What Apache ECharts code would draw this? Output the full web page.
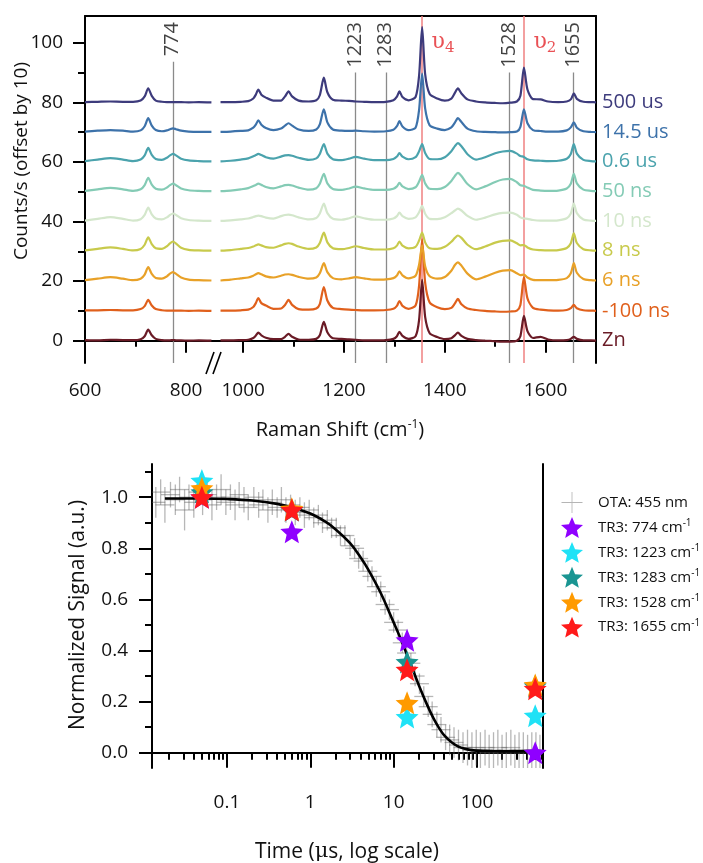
<!DOCTYPE html>
<html><head><meta charset="utf-8">
<script src="https://cdn.jsdelivr.net/npm/echarts@6/dist/echarts.min.js"></script>
<style>html,body{margin:0;padding:0;background:#fff}#c{width:703px;height:863px}</style>
</head><body><div id="c"></div>
<script>
// ---------- top panel data (Raman shift, cm-1) ----------
const shiftLeft = [600,625,650,675,695,710,718,725,732,740,752,762,768,774,780,790,805,825,850];
const shiftRight = [955,975,995,1010,1020,1025,1030,1036,1045,1060,1075,1083,1090,1097,1110,1130,1145,1152,1160,1167,
  1178,1195,1210,1223,1240,1260,1283,1298,1305,1310,1316,1328,1342,1349,1355,1361,1370,1385,1400,1413,
  1420,1426,1433,1445,1462,1480,1500,1515,1530,1543,1550,1557,1564,1575,1590,1605,1625,1642,1650,1656,
  1662,1675,1690,1700];
const spectraNames = ['Zn','-100 ns','6 ns','8 ns','10 ns','50 ns','0.6 us','14.5 us','500 us'];
const spectraOffsets = [0,10,20,30,40,50,60,70,80];

const znLeft = [0.2,0.1,0.3,0.2,0.2,0.5,1.5,3.7,1.8,0.6,0.2,0.1,0.1,0.2,0.1,0.1,0.0,0.1,0.0];
const znRight = [0.1,0.1,0.2,0.3,0.9, 1.7,2.7,1.8,1.0,0.5, 0.5,1.3,2.3,1.3,0.4, 0.3,0.6,1.8,6.3,2.8,
  0.8,0.6,0.4,0.3,0.1, 0.1,0.2,0.6,1.5,3.0, 1.6,0.6,1.5,7.0,20.4, 8.0,2.5,1.2,0.5,0.8,
  1.8,2.7,1.6,0.6,0.2, 0.0,-0.2,-0.3,-0.3,0.0, 1.5,8.3,3.2,0.9,1.3, 0.4,0.1,0.2,0.6,1.3, 0.6,0.1,0.1,0.0];
const m100nsLeft = [0.2,0.2,0.3,0.2,0.2,0.6,1.6,3.7,1.8,0.6,0.2,0.1,0.1,0.1,0.1,0.1,0.0,0.1,0.0];
const m100nsRight = [0.1,0.1,0.2,0.4,1.3, 2.6,4.3,2.6,1.8,0.7, 0.8,2.0,3.7,2.0,0.6, 0.4,0.8,2.3,8.0,3.5,
  1.0,0.6,0.4,0.3,0.2, 0.2,0.3,0.7,1.7,3.3, 1.7,0.7,1.8,8.5,24.0, 9.5,2.8,1.2,0.6,1.0,
  2.5,4.0,2.2,0.8,0.3, 0.0,-0.2,-0.3,-0.2,0.1, 2.0,11.3,4.2,1.0,0.4, 0.2,0.1,0.3,0.9,2.0, 0.9,0.2,0.1,0.0];
const ns6Left = [0.3,0.8,1.3,0.8,0.3,0.8,2.2,4.7,2.4,1.0,0.8,1.6,2.5,3.0,2.4,1.2,0.5,0.3,0.2];
const ns6Right = [0.2,0.5,0.9,1.2,1.8, 2.3,2.7,2.3,1.6,1.2, 1.8,2.2,2.3,2.1,1.4, 0.8,1.2,2.6,6.0,3.0,
  1.0,0.6,0.9,1.3,0.9, 0.5,0.6,1.0,1.9,3.3, 1.9,0.9,1.8,5.5,12.0, 5.0,1.6,0.8,1.4,3.5,
  5.4,6.3,5.2,2.5,0.6, 1.5,2.8,3.5,3.7,2.6, 2.0,2.2,1.2,0.4,0.3, 0.3,0.4,1.0,2.6,6.0, 2.8,0.7,0.3,0.2];
const ns8Left = [0.3,0.8,1.3,0.8,0.3,0.8,2.2,4.7,2.4,1.0,0.8,1.7,2.7,3.3,2.6,1.2,0.5,0.3,0.2];
const ns8Right = [0.2,0.4,0.8,1.1,1.6, 2.0,2.3,2.0,1.4,1.2, 2.0,2.5,2.7,2.5,1.6, 0.8,1.3,2.8,6.3,3.0,
  1.0,0.7,1.1,1.7,1.1, 0.6,0.6,1.0,1.9,3.3, 1.9,1.0,1.5,3.6,6.3, 3.0,1.0,0.8,1.5,3.2,
  4.5,5.3,4.5,2.2,0.7, 1.6,2.9,3.5,3.7,2.7, 2.0,2.1,1.3,0.6,0.4, 0.3,0.4,1.1,2.7,6.0, 2.8,0.7,0.3,0.2];
const ns10Left = [0.3,0.9,1.5,0.9,0.3,0.8,2.2,4.7,2.4,1.0,0.7,1.4,2.2,2.7,2.2,1.1,0.5,0.3,0.2];
const ns10Right = [0.2,0.4,0.7,1.0,1.5, 1.8,2.0,1.8,1.3,1.0, 1.8,2.2,2.3,2.1,1.4, 0.7,1.2,2.7,6.0,2.8,
  0.9,0.6,1.1,1.7,1.1, 0.6,0.6,1.0,1.8,3.0, 1.8,0.9,1.4,3.1,5.3, 2.6,0.9,0.8,1.4,2.8,
  3.7,4.3,3.7,1.9,0.6, 1.3,2.4,2.9,3.0,2.3, 1.4,1.0,0.9,0.5,0.3, 0.3,0.4,1.1,2.7,6.0, 2.8,0.7,0.3,0.2];
const ns50Left = [0.3,0.8,1.3,0.8,0.3,0.8,2.2,4.7,2.4,1.0,0.7,1.4,2.2,2.7,2.2,1.1,0.5,0.3,0.2];
const ns50Right = [0.2,0.4,0.8,1.2,1.9, 2.3,2.7,2.3,1.6,1.1, 1.8,2.2,2.3,2.1,1.4, 0.7,1.2,2.7,6.0,2.8,
  0.9,0.6,1.1,1.7,1.1, 0.6,0.6,1.0,1.8,3.0, 1.8,0.9,1.5,3.4,5.7, 2.8,1.0,0.9,1.6,3.6,
  5.3,6.3,5.3,2.6,0.8, 1.8,3.3,4.1,4.3,3.2, 2.2,2.0,1.4,0.6,0.4, 0.3,0.4,1.1,2.7,6.0, 2.8,0.7,0.3,0.2];
const us06Left = [0.3,0.8,1.3,0.8,0.3,0.8,2.2,4.7,2.4,1.0,0.7,1.4,2.2,2.7,2.2,1.1,0.5,0.3,0.2];
const us06Right = [0.2,0.4,0.8,1.2,1.9, 2.3,2.7,2.3,1.6,1.1, 1.8,2.2,2.3,2.1,1.4, 0.7,1.2,2.7,6.0,2.8,
  0.9,0.6,1.1,1.7,1.1, 0.6,0.6,1.0,1.8,3.0, 1.8,0.9,1.6,3.6,6.0, 3.0,1.0,0.9,1.6,3.6,
  5.3,6.3,5.3,2.6,0.8, 1.6,2.9,3.5,3.7,2.8, 2.0,1.7,0.9,0.5,0.4, 0.3,0.4,1.1,2.7,6.0, 2.8,0.7,0.3,0.2];
const us145Left = [0.2,0.5,0.7,0.5,0.2,0.6,2.0,4.7,2.2,0.7,0.3,0.6,1.0,1.3,1.0,0.5,0.2,0.1,0.1];
const us145Right = [0.1,0.2,0.4,0.6,1.5, 2.5,4.0,2.5,1.4,0.7, 1.2,2.2,3.0,2.2,0.9, 0.4,0.9,2.6,7.7,3.3,
  0.9,0.5,0.4,0.5,0.3, 0.2,0.3,0.8,2.0,3.7, 1.9,0.7,1.5,7.5,19.7, 8.0,2.3,1.2,0.7,1.6,
  3.2,4.7,3.4,1.2,0.3, 0.1,0.0,-0.1,0.0,0.2, 1.8,7.7,3.0,0.7,0.4, 0.2,0.2,0.6,1.6,3.3, 1.5,0.3,0.1,0.0];
const us500Left = [0.1,0.2,0.3,0.2,0.2,0.6,2.0,4.7,2.2,0.6,0.2,0.1,0.1,0.1,0.1,0.1,0.0,0.1,0.0];
const us500Right = [0.1,0.1,0.2,0.4,1.3, 2.6,4.3,2.6,1.6,0.6, 0.6,2.0,3.7,2.0,0.6, 0.3,0.7,2.4,8.3,3.4,
  0.9,0.6,0.5,0.3,0.2, 0.1,0.2,0.7,1.9,3.7, 1.8,0.7,1.8,9.0,25.3, 9.5,2.8,1.3,0.6,1.3,
  3.2,4.7,3.0,1.0,0.3, 0.0,-0.2,-0.3,-0.1,0.3, 2.2,11.7,4.3,1.1,1.0, 0.3,0.1,0.3,1.0,3.0, 1.2,0.2,0.1,0.0];

const spectraLeft = [znLeft,m100nsLeft,ns6Left,ns8Left,ns10Left,ns50Left,us06Left,us145Left,us500Left];
const spectraRight = [znRight,m100nsRight,ns6Right,ns8Right,ns10Right,ns50Right,us06Right,us145Right,us500Right];

const markerLines = [774,1223,1283,1528,1655];
const markerLineTops = [93.6,90,90,90,90];
const nuLines = [1355,1557];
const nuSubscripts = ['4','2'];

// ---------- bottom panel data ----------
const otaTime = [0.014,0.016,0.018,0.021,0.024,0.027,0.031,0.035,0.04,0.045,
  0.051,0.058,0.066,0.075,0.085,0.097,0.11,0.125,0.14,0.16,
  0.18,0.21,0.24,0.27,0.31,0.35,0.4,0.45,0.51,0.58,
  0.66,0.75,0.85,0.97,1.1,1.25,1.4,1.6,1.8,2.05,
  2.3,2.6,3.0,3.4,3.8,4.3,4.9,5.5,6.2,7.0,
  7.9,8.9,10,11.3,12.7,14.3,16.1,18.1,20.4,23,
  26,29,33,37,42,47,53,60,68,77,
  87,98,110,125,140,158,178,200,225,255,
  285,320,360,405,455,510,570];
const otaSignal = [0.98,1.02,0.97,1.01,0.99,1.03,0.95,1.00,0.98,1.02,
  0.99,1.01,0.97,1.00,1.03,0.98,1.00,0.97,1.01,0.99,
  0.96,1.00,0.97,0.99,0.95,0.98,0.96,0.99,0.95,0.97,
  0.94,0.96,0.93,0.95,0.92,0.93,0.90,0.91,0.88,0.88,
  0.85,0.85,0.81,0.80,0.76,0.75,0.71,0.69,0.65,0.63,
  0.58,0.56,0.51,0.48,0.43,0.39,0.35,0.30,0.27,0.22,
  0.18,0.15,0.11,0.09,0.06,0.05,0.04,0.03,0.02,0.02,
  0.01,0.02,0.01,0.02,0.00,0.01,0.02,0.00,0.01,0.02,
  0.00,0.01,0.01,0.00,0.01,0.01,0.00];
const otaError = [0.06,0.05,0.07,0.05,0.06,0.05,0.08,0.05,0.06,0.05,
  0.06,0.05,0.06,0.05,0.06,0.05,0.05,0.06,0.05,0.05,
  0.05,0.04,0.05,0.04,0.05,0.05,0.04,0.05,0.05,0.04,
  0.05,0.04,0.05,0.04,0.04,0.04,0.04,0.04,0.04,0.04,
  0.04,0.04,0.04,0.04,0.04,0.04,0.04,0.04,0.04,0.04,
  0.04,0.04,0.04,0.04,0.04,0.04,0.04,0.04,0.04,0.04,
  0.04,0.05,0.05,0.05,0.05,0.06,0.06,0.06,0.06,0.07,
  0.07,0.07,0.07,0.07,0.07,0.07,0.07,0.07,0.07,0.07,
  0.07,0.07,0.07,0.07,0.07,0.07,0.07];
const otaTimeErrorFactor = 1.3;

const fitTime = [0.018,0.05,0.1,0.2,0.4,0.6,1,1.5,2,3,4,5,7,10,12,14,17,20,25,30,35,40,50,60,70,85,100,150,200,300,500];
const fitSignal = [0.995,0.995,0.993,0.987,0.974,0.96,0.936,0.905,0.875,0.82,0.765,0.715,0.625,0.51,0.45,0.395,0.325,0.265,0.19,0.135,0.097,0.07,0.04,0.024,0.016,0.01,0.008,0.006,0.005,0.005,0.005];

const tr3Times = [0.05,0.6,14.5,500];
const tr3Names = ['TR3: 774 cm-1','TR3: 1223 cm-1','TR3: 1283 cm-1','TR3: 1528 cm-1','TR3: 1655 cm-1'];
const tr3_774 = [1.0,0.865,0.44,0.0];
const tr3_1223 = [1.065,0.95,0.14,0.145];
const tr3_1283 = [1.02,0.95,0.355,0.26];
const tr3_1528 = [1.035,0.955,0.195,0.265];
const tr3_1655 = [1.0,0.95,0.325,0.25];
const tr3Values = [tr3_774,tr3_1223,tr3_1283,tr3_1528,tr3_1655];

const xTicksLog = [0.1,1,10,100];
const xMinorLog = [0.02,0.03,0.04,0.05,0.06,0.07,0.08,0.09,0.2,0.3,0.4,0.5,0.6,0.7,0.8,0.9,
  2,3,4,5,6,7,8,9,20,30,40,50,60,70,80,90,200,300,400,500,600];

// ---------- styles ----------
const FONT = "'Open Sans', sans-serif";
const spectraColors = ['#6a1b26','#e0601c','#e8a128','#c8ca4c','#d4e7cc','#84cbb5','#4ba3ad','#3d72aa','#3d3b7c'];
const tr3Colors = ['#8f00ff','#1fe2f6','#1a9592','#ff9a00','#ff1a1a'];
const STAR = 'path://M50,0 L63.2,31.8 L97.55,34.55 L71.4,56.95 L79.4,90.45 L50,72.5 L20.6,90.45 L28.6,56.95 L2.45,34.55 L36.8,31.8 Z';
const CROSS = 'path://M0,9.6 H20 V10.4 H0 Z M9.6,0 H10.4 V20 H9.6 Z';
const topYMin = -7.5, topYMax = 109;
const botYMin = -0.06, botYMax = 1.13;
const logMin = 0.0126, logMax = 620;
const line = {show:true, lineStyle:{color:'#000', width:2}};
const noLine = {show:false};
const labelStyle = {fontFamily:FONT, fontSize:19, color:'#111'};
const plain = v => String(+(+v).toPrecision(4));

const grids = [
  {left:85, top:16, width:133, height:347},
  {left:218, top:16, width:378, height:347},
  {left:152, top:464, width:391, height:304},
  {left:85, top:16, width:133, height:347},
  {left:218, top:16, width:378, height:347},
  {left:152, top:464, width:391, height:304}
];

const xAxes = [
  {gridIndex:0, type:'value', position:'bottom', min:600, max:863, axisLine:line, splitLine:noLine,
    axisTick:{customValues:[600,800], length:12, lineStyle:{color:'#000', width:2}},
    axisLabel:Object.assign({customValues:[600,800], margin:18, formatter:plain}, labelStyle)},
  {gridIndex:0, type:'value', position:'top', min:600, max:863, axisLine:line, splitLine:noLine, axisTick:noLine, axisLabel:noLine},
  {gridIndex:1, type:'value', position:'bottom', min:950, max:1700, axisLine:line, splitLine:noLine,
    axisTick:{customValues:[1000,1200,1400,1600], length:12, lineStyle:{color:'#000', width:2}},
    axisLabel:Object.assign({customValues:[1000,1200,1400,1600], margin:18, formatter:plain}, labelStyle)},
  {gridIndex:1, type:'value', position:'top', min:950, max:1700, axisLine:line, splitLine:noLine, axisTick:noLine, axisLabel:noLine},
  {gridIndex:2, type:'log', logBase:10, position:'bottom', min:logMin, max:logMax, axisLine:line, splitLine:noLine, minorTick:noLine,
    axisTick:{customValues:xTicksLog, length:15, lineStyle:{color:'#000', width:2}},
    axisLabel:Object.assign({customValues:xTicksLog, margin:25, formatter:plain}, labelStyle)},
  {gridIndex:2, type:'log', logBase:10, position:'top', min:logMin, max:logMax, axisLine:line, splitLine:noLine, axisTick:noLine, axisLabel:noLine},
  {gridIndex:3, type:'value', position:'bottom', min:600, max:863, axisLine:noLine, splitLine:noLine,
    axisTick:{customValues:[700], length:6, lineStyle:{color:'#000', width:2}}, axisLabel:noLine},
  {gridIndex:4, type:'value', position:'bottom', min:950, max:1700, axisLine:noLine, splitLine:noLine,
    axisTick:{customValues:[1100,1300,1500,1700], length:6, lineStyle:{color:'#000', width:2}}, axisLabel:noLine},
  {gridIndex:5, type:'log', logBase:10, position:'bottom', min:logMin, max:logMax, axisLine:noLine, splitLine:noLine,
    axisTick:{customValues:xMinorLog, length:7, lineStyle:{color:'#000', width:2}}, axisLabel:noLine}
];

const yAxes = [
  {gridIndex:0, type:'value', position:'left', min:topYMin, max:topYMax, axisLine:line, splitLine:noLine,
    axisTick:{customValues:[0,20,40,60,80,100], length:12, lineStyle:{color:'#000', width:2}},
    axisLabel:Object.assign({customValues:[0,20,40,60,80,100], margin:22, formatter:plain}, labelStyle)},
  {gridIndex:1, type:'value', position:'right', min:topYMin, max:topYMax, axisLine:line, splitLine:noLine, axisTick:noLine, axisLabel:noLine},
  {gridIndex:2, type:'value', position:'left', min:botYMin, max:botYMax, axisLine:line, splitLine:noLine,
    axisTick:{customValues:[0,0.2,0.4,0.6,0.8,1.0], length:13, lineStyle:{color:'#000', width:2}},
    axisLabel:Object.assign({customValues:[0,0.2,0.4,0.6,0.8,1.0], margin:24, formatter:v=>(+v).toFixed(1)}, labelStyle)},
  {gridIndex:2, type:'value', position:'right', min:botYMin, max:botYMax, axisLine:line, splitLine:noLine, axisTick:noLine, axisLabel:noLine},
  {gridIndex:3, type:'value', position:'left', min:topYMin, max:topYMax, axisLine:noLine, splitLine:noLine,
    axisTick:{customValues:[10,30,50,70,90], length:7, lineStyle:{color:'#000', width:2}}, axisLabel:noLine},
  {gridIndex:4, type:'value', position:'left', min:topYMin, max:topYMax, show:false},
  {gridIndex:5, type:'value', position:'left', min:botYMin, max:botYMax, axisLine:noLine, splitLine:noLine,
    axisTick:{customValues:[0.1,0.3,0.5,0.7,0.9,1.1], length:7, lineStyle:{color:'#000', width:2}}, axisLabel:noLine}
];

const series = [];
spectraNames.forEach((name, i) => {
  const color = spectraColors[i];
  const off = spectraOffsets[i];
  const left = {
    type:'line', name, xAxisIndex:0, yAxisIndex:0, silent:true, showSymbol:false, smooth:0.25, z:3,
    lineStyle:{color, width:2.2}, itemStyle:{color},
    data: shiftLeft.map((x, k) => [x, spectraLeft[i][k] + off])
  };
  const right = {
    type:'line', name, xAxisIndex:2, yAxisIndex:1, silent:true, showSymbol:false, smooth:0.25, z:3,
    lineStyle:{color, width:2.2}, itemStyle:{color},
    data: shiftRight.map((x, k) => [x, spectraRight[i][k] + off]),
    endLabel:{show:true, formatter:() => name, color, fontSize:20, fontFamily:FONT, distance:6}
  };
  if (i === 0) {
    left.markLine = {
      silent:true, symbol:['none','none'], label:{show:false}, z:1,
      data: [[{coord:[markerLines[0], topYMin], lineStyle:{color:'#8a8a8a', width:1.3, type:'solid'}},
              {coord:[markerLines[0], markerLineTops[0]]}]]
    };
    right.markLine = {
      silent:true, symbol:['none','none'], label:{show:false}, z:1,
      data: markerLines.slice(1).map((x, k) => [
        {coord:[x, topYMin], lineStyle:{color:'#8a8a8a', width:1.3, type:'solid'}},
        {coord:[x, markerLineTops[k+1]]}
      ]).concat(nuLines.map(x => [
        {coord:[x, topYMin], lineStyle:{color:'#ef8080', width:1.5, type:'solid'}},
        {coord:[x, topYMax]}
      ]))
    };
  }
  series.push(left, right);
});

const peakLabel = {show:true, position:[0,0], rotate:90, align:'right', verticalAlign:'middle',
  fontSize:20, fontFamily:FONT, color:'#111', formatter:p => p.value[2]};
series.push({type:'scatter', xAxisIndex:0, yAxisIndex:0, silent:true, symbolSize:1, itemStyle:{color:'rgba(0,0,0,0)'},
  data:[[markerLines[0], 106.8, String(markerLines[0])]], label:peakLabel, z:6});
series.push({type:'scatter', xAxisIndex:2, yAxisIndex:1, silent:true, symbolSize:1, itemStyle:{color:'rgba(0,0,0,0)'},
  data:markerLines.slice(1).map(x => [x, 106.8, String(x)]), label:peakLabel, z:6});
series.push({type:'scatter', xAxisIndex:2, yAxisIndex:1, silent:true, symbolSize:1, itemStyle:{color:'rgba(0,0,0,0)'},
  data:nuLines.map((x, k) => [x, 100.2, nuSubscripts[k]]), z:6,
  label:{show:true, position:'right', distance:9, formatter:p => '{u|\u03C5}{s|' + p.value[2] + '}',
    rich:{u:{fontFamily:"'DejaVu Serif', serif", fontSize:22, color:'#e3262a'},
          s:{fontFamily:"'DejaVu Serif', serif", fontSize:15, color:'#e3262a', padding:[12,0,0,0]}}}});

// bottom panel
series.push({
  type:'custom', name:'OTA: 455 nm', xAxisIndex:4, yAxisIndex:2, silent:true, clip:true, z:2,
  itemStyle:{color:'#9a9a9a'},
  encode:{x:0, y:1},
  data: otaTime.map((t, k) => [t, otaSignal[k], otaError[k]]),
  renderItem:(params, api) => {
    const t = api.value(0), y = api.value(1), e = api.value(2);
    const c = api.coord([t, y]);
    const l = api.coord([t / otaTimeErrorFactor, y]);
    const r = api.coord([t * otaTimeErrorFactor, y]);
    const tp = api.coord([t, y + e]);
    const bt = api.coord([t, y - e]);
    const style = {stroke:'rgba(95,95,95,0.45)', lineWidth:1.3};
    return {type:'group', children:[
      {type:'line', shape:{x1:l[0], y1:c[1], x2:r[0], y2:c[1]}, style},
      {type:'line', shape:{x1:c[0], y1:tp[1], x2:c[0], y2:bt[1]}, style}
    ]};
  }
});
series.push({type:'line', name:'fit', xAxisIndex:4, yAxisIndex:2, silent:true, showSymbol:false, smooth:0.4, z:3,
  lineStyle:{color:'#000', width:2.6}, data: fitTime.map((t, k) => [t, fitSignal[k]])});
tr3Names.forEach((name, i) => {
  series.push({type:'scatter', name, xAxisIndex:4, yAxisIndex:2, symbol:STAR, symbolSize:23, z:4 + i, silent:true,
    itemStyle:{color:tr3Colors[i], opacity:1}, data: tr3Times.map((t, k) => [t, tr3Values[i][k]])});
});

const option = {
  animation:false,
  backgroundColor:'#fff',
  grid:grids, xAxis:xAxes, yAxis:yAxes, series,
  legend:{
    orient:'vertical', left:556, top:487, width:160, itemWidth:22, itemHeight:21, itemGap:4, selectedMode:false,
    data:[{name:'OTA: 455 nm', icon:CROSS, itemStyle:{color:'#b5b5b5', opacity:1}}]
      .concat(tr3Names.map((n, i) => ({name:n, itemStyle:{color:tr3Colors[i], opacity:1}}))),
    formatter:n => '{gap|\u00A0}' + n.replace('cm-1', 'cm{sup|-1}'),
    textStyle:{fontFamily:FONT, fontSize:15, color:'#111', overflow:'none',
      rich:{gap:{width:10, fontSize:15}, sup:{fontFamily:FONT, fontSize:10, color:'#111', padding:[0,0,8,0]}}}
  },
  graphic:[
    {type:'polygon', z:100, shape:{points:[[206,374],[214,352],[221,352],[213,374]]}, style:{fill:'#fff'}},
    {type:'line', z:101, shape:{x1:206, y1:374, x2:214, y2:352}, style:{stroke:'#000', lineWidth:1.6}},
    {type:'line', z:101, shape:{x1:213, y1:374, x2:221, y2:352}, style:{stroke:'#000', lineWidth:1.6}},
    {type:'text', z:100, x:22, y:161, rotation:Math.PI/2,
      style:{text:'Counts/s (offset by 10)', font:"19px 'Open Sans', sans-serif", fill:'#111', align:'center', verticalAlign:'middle'}},
    {type:'text', z:100, x:340, y:430,
      style:{text:'Raman Shift (cm{sup|-1})', font:"20px 'Open Sans', sans-serif", fill:'#111', align:'center', verticalAlign:'middle',
        rich:{sup:{font:"12px 'Open Sans', sans-serif", fill:'#111', padding:[0,0,10,0]}}}},
    {type:'text', z:100, x:78, y:615, rotation:Math.PI/2,
      style:{text:'Normalized Signal (a.u.)', font:"21px 'Open Sans', sans-serif", fill:'#111', align:'center', verticalAlign:'middle'}},
    {type:'text', z:100, x:347, y:852,
      style:{text:'Time ({g|\u03BC}s, log scale)', font:"21px 'Open Sans', sans-serif", fill:'#111', align:'center', verticalAlign:'middle',
        rich:{g:{font:"21px 'DejaVu Serif', serif", fill:'#111'}}}}
  ]
};

const chart = echarts.init(document.getElementById('c'), null, {width:703, height:863});
chart.setOption(option);
</script>
</body></html>
